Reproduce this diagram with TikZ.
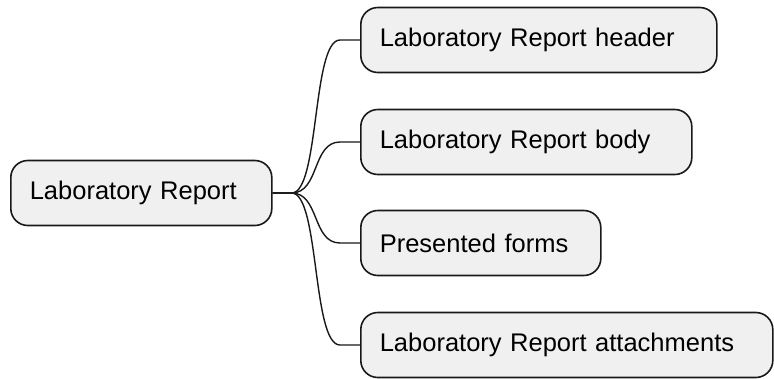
\documentclass[tikz,border=0pt]{standalone}
\usepackage{fontspec}
\setmainfont{Liberation Sans}
\usetikzlibrary{calc}
\tikzset{
  mmbox/.style={draw=black!90, fill=black!6, line width=1.6pt, rounded corners=17pt,
    minimum height=65pt, inner xsep=19pt, anchor=west, align=left,
    font=\fontsize{25.5}{30}\selectfont},
  mmlink/.style={draw=black!90, line width=1.4pt}
}
\newcommand{\mmconn}[2]{%
  \draw[mmlink] (#1.east) -- ++(19,0) .. controls ++(28,0) and ($(#2.west)+(-48,0)$) .. ($(#2.west)+(-20,0)$) -- (#2.west);}
\begin{document}
\begin{tikzpicture}[x=1pt,y=-1pt]
\useasboundingbox (0,0) rectangle (774,378);
\node[mmbox, text width=223pt] (root) at (10,193) {Laboratory Report};
\node[mmbox, text width=318pt] (hdr) at (360,40) {Laboratory Report header};
\node[mmbox, text width=293pt] (body) at (360,142) {Laboratory Report body};
\node[mmbox, text width=202pt] (forms) at (360,243) {Presented forms};
\node[mmbox, text width=374pt] (att) at (360,345) {Laboratory Report attachments};
\mmconn{root}{hdr}
\mmconn{root}{body}
\mmconn{root}{forms}
\mmconn{root}{att}
\end{tikzpicture}
\end{document}
